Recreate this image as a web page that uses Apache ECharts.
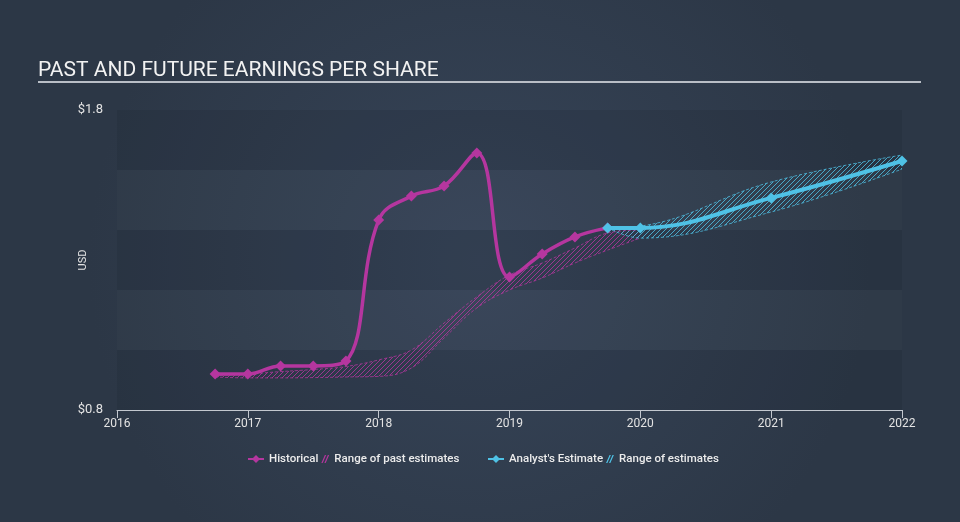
<!DOCTYPE html>
<html>
<head>
<meta charset="utf-8">
<script src="https://cdn.jsdelivr.net/npm/echarts@6/dist/echarts.min.js"></script>
<style>
  html, body { margin: 0; padding: 0; }
  #chart { width: 960px; height: 522px; }
</style>
</head>
<body>
<div id="chart"></div>
<script>
// quarterly points as decimal years
const histX = [2016.75, 2017.0, 2017.25, 2017.5, 2017.75, 2018.0, 2018.25, 2018.5, 2018.75, 2019.0, 2019.25, 2019.5, 2019.75];
const histEps = [0.92, 0.92, 0.947, 0.947, 0.963, 1.433, 1.513, 1.547, 1.657, 1.243, 1.32, 1.377, 1.407];

const estX = [2019.75, 2020.0, 2021.0, 2022.0];
const estEps = [1.407, 1.407, 1.507, 1.63];

const pastRangeX = [2016.75, 2017.0, 2017.25, 2017.5, 2017.75, 2018.0, 2018.25, 2018.5, 2018.75, 2019.0, 2019.25, 2019.5, 2019.75, 2020.0];
const pastLow = [0.91, 0.907, 0.907, 0.908, 0.91, 0.912, 0.94, 1.04, 1.14, 1.2, 1.24, 1.29, 1.333, 1.373];
const pastHigh = [0.915, 0.92, 0.928, 0.935, 0.945, 0.967, 1.0, 1.09, 1.177, 1.25, 1.29, 1.34, 1.39, 1.4];

const estRangeX = [2019.75, 2020.0, 2021.0, 2022.0];
const estLow = [1.407, 1.373, 1.46, 1.603];
const estHigh = [1.407, 1.413, 1.56, 1.65];

const yearTicks = [2016, 2017, 2018, 2019, 2020, 2021, 2022];

const PINK = "#b5369f";
const BLUE = "#4fc2e6";

function hatch(color) {
  const c = document.createElement("canvas");
  c.width = 5;
  c.height = 5;
  const ctx = c.getContext("2d");
  ctx.strokeStyle = color;
  ctx.lineWidth = 1;
  ctx.beginPath();
  ctx.moveTo(-1, 1); ctx.lineTo(1, -1);
  ctx.moveTo(0, 5); ctx.lineTo(5, 0);
  ctx.moveTo(4, 6); ctx.lineTo(6, 4);
  ctx.stroke();
  return { image: c, repeat: "repeat" };
}

// value first, year second, so the stack runs on the value dimension
function pairs(xs, ys) {
  return xs.map((x, i) => [ys[i], x]);
}

function band(name, stack, xs, lo, hi, color) {
  const edge = { width: 1, type: [3, 2], color: color, opacity: 0.75 };
  return [
    {
      type: "line",
      name: name + "-low",
      stack: stack,
      encode: { x: 1, y: 0 },
      data: pairs(xs, lo),
      smooth: 0.4,
      symbol: "none",
      lineStyle: edge,
      z: 1,
    },
    {
      type: "line",
      name: name,
      stack: stack,
      encode: { x: 1, y: 0 },
      data: pairs(xs, hi.map((v, i) => +(v - lo[i]).toFixed(4))),
      smooth: 0.4,
      symbol: "none",
      color: color,
      lineStyle: edge,
      areaStyle: { color: hatch(color), opacity: 0.8 },
      z: 1,
    },
  ];
}

// two slashes drawn in the right half; the corner dots only fix the box size
const hatchIcon =
  "path://M0,0L0.01,0L0,0.01Z M16,10L15.99,10L16,9.99Z M8,9L11.5,1L12.8,1L9.3,9Z M11,9L14.5,1L15.8,1L12.3,9Z";
const legendText = { color: "#ececec", fontSize: 11.5, fontWeight: 500 };

function legendPair(left, lineName, rangeName, color) {
  return {
    left: left,
    top: 448,
    itemGap: -5,
    itemWidth: 16,
    itemHeight: 10,
    textStyle: legendText,
    selectedMode: false,
    data: [{ name: lineName }, { name: rangeName, icon: hatchIcon, itemStyle: { color: color } }],
  };
}

const myChart = echarts.init(document.getElementById("chart"));
myChart.setOption({
  animation: false,
  backgroundColor: {
    type: "radial",
    x: 0.5,
    y: 0.5,
    r: 0.75,
    colorStops: [
      { offset: 0, color: "#374559" },
      { offset: 1, color: "#2c3746" },
    ],
  },
  textStyle: { fontFamily: "Roboto, sans-serif" },
  title: {
    text: "PAST AND FUTURE EARNINGS PER SHARE",
    left: 33,
    top: 55,
    textStyle: { color: "#f2f2f2", fontSize: 21, fontWeight: "normal" },
  },
  graphic: [
    {
      type: "line",
      shape: { x1: 38, y1: 82, x2: 921, y2: 82 },
      style: { stroke: "#b9bec6", lineWidth: 2 },
    },
    {
      type: "text",
      x: 83,
      y: 260,
      rotation: Math.PI / 2,
      style: {
        text: "USD",
        fill: "#e3e3e3",
        font: "11px Roboto, sans-serif",
        align: "center",
        verticalAlign: "middle",
      },
    },
  ],
  legend: [
    legendPair(242, "Historical", "Range of past estimates", PINK),
    legendPair(482, "Analyst's Estimate", "Range of estimates", BLUE),
  ],
  grid: {
    left: 117,
    right: 58,
    top: 110,
    bottom: 112,
  },
  xAxis: {
    type: "value",
    min: yearTicks[0],
    max: yearTicks[yearTicks.length - 1],
    interval: 1,
    axisLine: { lineStyle: { color: "#c3c8cf", width: 1 } },
    axisTick: { length: 8, lineStyle: { color: "#c3c8cf" } },
    axisLabel: { color: "#e3e3e3", fontSize: 12, margin: 8, formatter: (v) => String(v) },
    splitLine: { show: false },
  },
  yAxis: {
    type: "value",
    min: 0.8,
    max: 1.8,
    interval: 0.2,
    axisLine: { show: false },
    axisTick: { show: false },
    axisLabel: {
      color: "#e3e3e3",
      fontSize: 13,
      margin: 14,
      formatter: (v) => (Math.abs(v - 0.8) < 1e-6 || Math.abs(v - 1.8) < 1e-6 ? "$" + v.toFixed(1) : ""),
    },
    splitLine: { show: false },
    splitArea: {
      show: true,
      areaStyle: { color: ["rgba(22,30,42,0.16)", "rgba(255,255,255,0.015)"] },
    },
  },
  series: [
    ...band("Range of past estimates", "past", pastRangeX, pastLow, pastHigh, PINK),
    ...band("Range of estimates", "est", estRangeX, estLow, estHigh, BLUE),
    {
      type: "line",
      name: "Historical",
      encode: { x: 1, y: 0 },
      data: pairs(histX, histEps),
      smooth: 0.4,
      color: PINK,
      symbol: "diamond",
      symbolSize: 11,
      lineStyle: { width: 3.5, color: PINK },
      z: 3,
    },
    {
      type: "line",
      name: "Analyst's Estimate",
      encode: { x: 1, y: 0 },
      data: pairs(estX, estEps),
      smooth: 0.4,
      color: BLUE,
      symbol: "diamond",
      symbolSize: 11,
      lineStyle: { width: 4, color: BLUE },
      z: 4,
    },
  ],
});
</script>
</body>
</html>
